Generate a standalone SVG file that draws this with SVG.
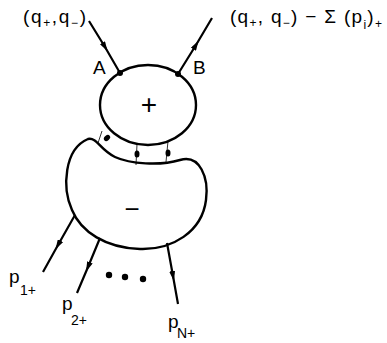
<svg xmlns="http://www.w3.org/2000/svg" width="387" height="343" viewBox="0 0 387 343">
<defs>
<marker id="arr" viewBox="0 0 10 6" refX="5" refY="3" markerWidth="10" markerHeight="6" markerUnits="userSpaceOnUse" orient="auto">
<path d="M0,0 L10,3 L0,6 Z" fill="#000"/>
</marker>
</defs>
<style>
.ln{stroke:#000;stroke-width:2.2;fill:none}
.sh{stroke:#000;stroke-width:2.4;fill:none}
.t{font-family:"Liberation Sans",Arial,sans-serif;font-size:19px;fill:#000}
.s{font-size:12px}
.s2{font-family:"Liberation Sans",Arial,sans-serif;font-size:14px;fill:#000}
</style>
<g id="connectors">
<polyline class="ln" points="89,21 105,47 120,73" marker-mid="url(#arr)"/>
<polyline class="ln" points="178,74 196,45 212,18" marker-mid="url(#arr)"/>
<polyline class="ln" points="75,215 58,245 43,272" marker-mid="url(#arr)"/>
<polyline class="ln" points="100,238 88,267 77,293" marker-mid="url(#arr)"/>
<polyline class="ln" points="167,243 173,276 178,304" marker-mid="url(#arr)"/>
<g id="links">
<line x1="102" y1="131" x2="98" y2="143" stroke="#000" stroke-width="0.8"/>
<line x1="137" y1="144" x2="136" y2="165" stroke="#000" stroke-width="0.8"/>
<line x1="168" y1="141" x2="166" y2="162" stroke="#000" stroke-width="0.8"/>
<ellipse cx="107" cy="138" rx="3.5" ry="2.5" transform="rotate(-40 107 138)" fill="#000"/>
<ellipse cx="137" cy="154" rx="2.5" ry="3.5" fill="#000"/>
<ellipse cx="168" cy="153" rx="2.5" ry="3.5" fill="#000"/>
</g>
</g>
<g id="plus">
<ellipse class="sh" cx="148" cy="105" rx="48" ry="40"/>
<text class="t" x="149" y="114" text-anchor="middle" style="font-size:28px">+</text>
</g>
<g id="minus">
<path class="sh" d="M88,139 C97,137 100,150 115,157 C130,164 160,166 180,160 C200,154 209,178 206,200 C202,232 172,250 140,249 C106,248 81,232 72,210 C62,188 64,149 88,139 Z"/>
<text class="t" x="132" y="218" text-anchor="middle" style="font-size:26px">−</text>
</g>
<g id="A">
<circle cx="120" cy="73" r="3" fill="#000"/>
<text class="t" x="93" y="74">A</text>
</g>
<g id="B">
<circle cx="178" cy="74" r="3" fill="#000"/>
<text class="t" x="193" y="74">B</text>
</g>
<g id="labels">
<text class="t" x="23" y="23" textLength="63" lengthAdjust="spacing">(q<tspan class="s" dy="4">+</tspan><tspan dy="-4">,q</tspan><tspan class="s" dy="4">−</tspan><tspan dy="-4">)</tspan></text>
<text class="t" x="230" y="23" textLength="152" lengthAdjust="spacing">(q<tspan class="s" dy="4">+</tspan><tspan dy="-4">, q</tspan><tspan class="s" dy="4">−</tspan><tspan dy="-4">) − Σ (p</tspan><tspan class="s" dy="6">i</tspan><tspan dy="-6">)</tspan><tspan class="s" dy="5">+</tspan></text>
<text class="t" x="9" y="283">p</text><text class="s2" x="20" y="295">1+</text>
<text class="t" x="62" y="310">p</text><text class="s2" x="71" y="325">2+</text>
<text class="t" x="168" y="328">p</text><text class="s2" x="177" y="338">N+</text>
</g>
<g id="dots">
<circle cx="109" cy="275" r="3.2" fill="#000"/>
<circle cx="125" cy="277" r="3.2" fill="#000"/>
<circle cx="143" cy="279" r="3.2" fill="#000"/>
</g>
</svg>
